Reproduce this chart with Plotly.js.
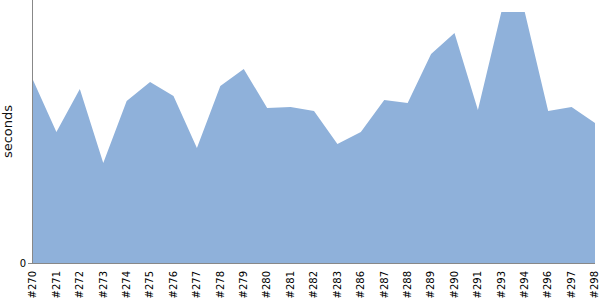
<!DOCTYPE html>
<html><head><meta charset="utf-8">
<script src="https://cdn.plot.ly/plotly-3.0.1.min.js"></script>
<style>html,body{margin:0;padding:0;background:#fff}#c{width:600px;height:300px}</style>
</head><body><div id="c"></div>
<script>
const builds = ["#270","#271","#272","#273","#274","#275","#276","#277","#278","#279","#280","#281","#282","#283","#286","#287","#288","#289","#290","#291","#293","#294","#296","#297","#298"];
const seconds = [183,131,174,100,162,181,167,115,177,194,155,156,152,119,131,163,160,209,230,153,251,251,152,156,140];
const yTicks = [0];

Plotly.newPlot('c', [{
  type:'scatter', mode:'lines', x:builds, y:seconds,
  fill:'tozeroy', fillcolor:'rgb(143,177,218)',
  line:{width:0, color:'rgb(143,177,218)'}, hoverinfo:'skip'
}], {
  width:600, height:300,
  margin:{l:33, r:5, t:0, b:37},
  paper_bgcolor:'#fff', plot_bgcolor:'#fff',
  showlegend:false,
  font:{family:'DejaVu Sans', size:10, color:'#000'},
  xaxis:{type:'category', range:[0, builds.length-1], showgrid:false, zeroline:false,
    showline:true, linecolor:'#888', linewidth:1, ticks:'', tickangle:-90, ticklabelstandoff:3,
    tickfont:{size:10, color:'#000'}, automargin:false},
  yaxis:{range:[0,263], tickvals:yTicks, ticktext:yTicks.map(String), showgrid:false, zeroline:false,
    showline:true, linecolor:'#888', linewidth:1, ticks:'outside', ticklen:4, tickcolor:'#888',
    tickfont:{size:10, color:'#000'},
    title:{text:'seconds', font:{size:13, color:'#111'}, standoff:12}, automargin:false}
}, {staticPlot:true});
</script></body></html>
